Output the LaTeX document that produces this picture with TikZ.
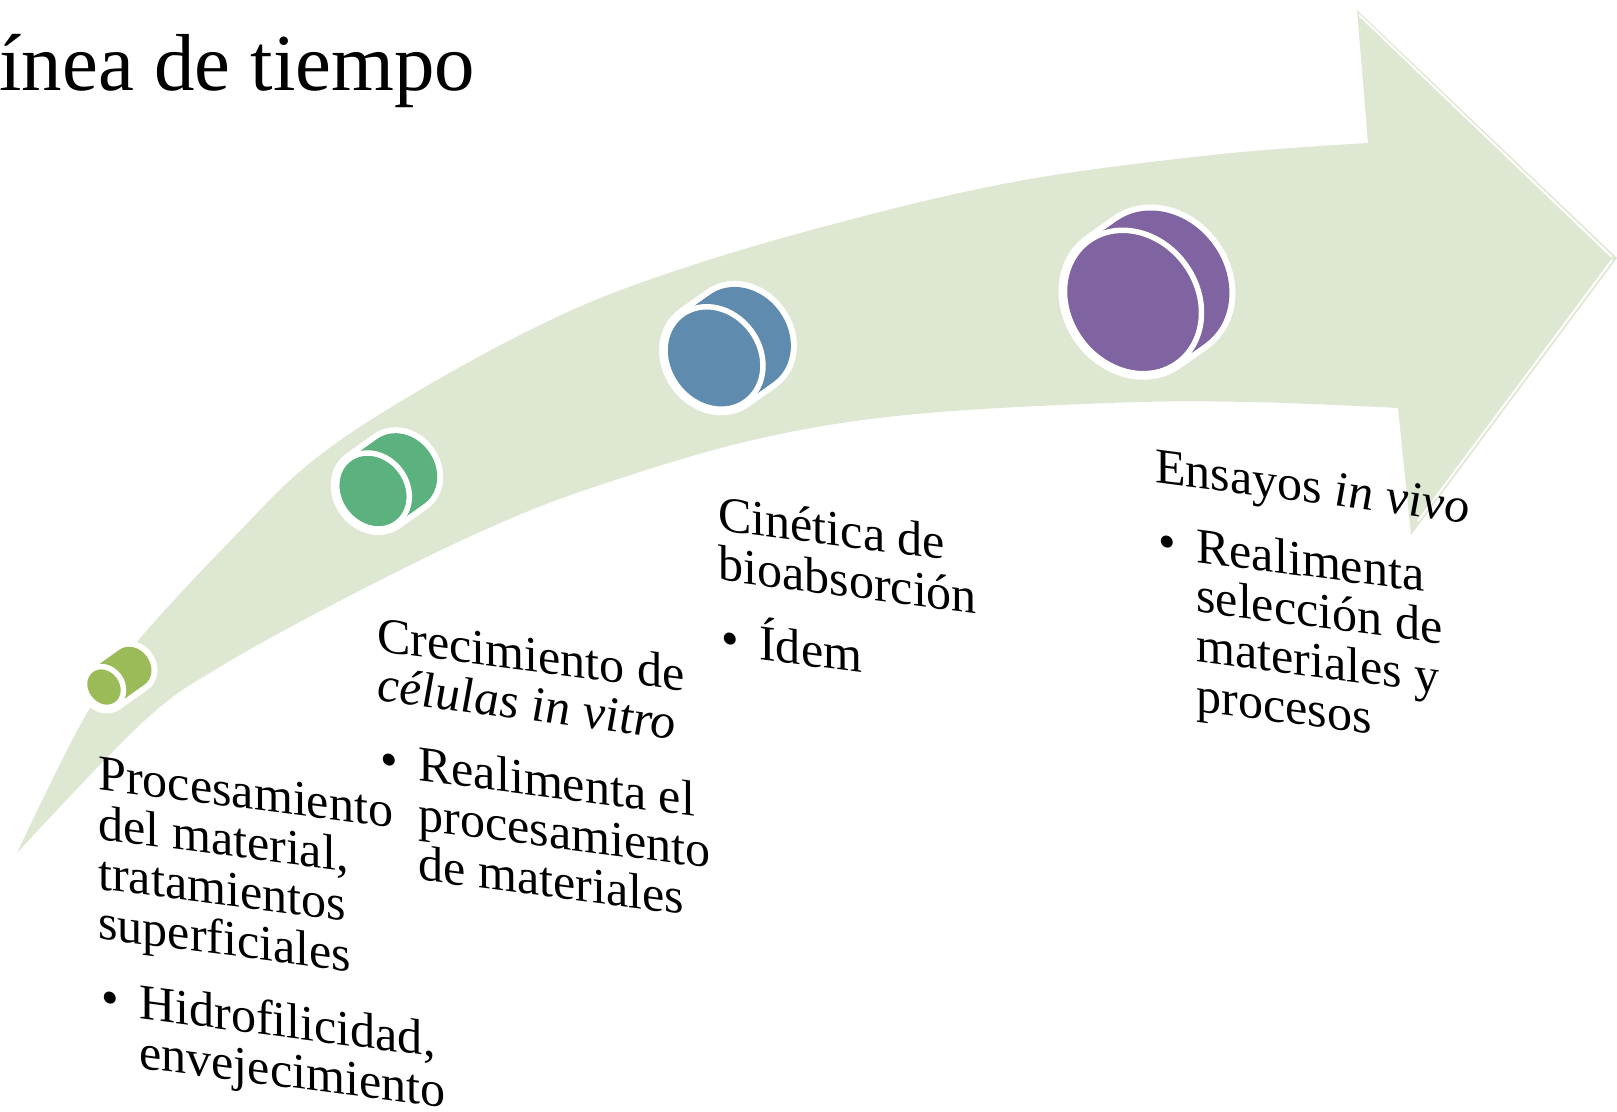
\documentclass[tikz,border=0pt]{standalone}
\usepackage{fontspec}
\setmainfont{Liberation Serif}

\definecolor{arrowgreen}{HTML}{DEE7D1}
\definecolor{cylA}{HTML}{9BBB59}
\definecolor{cylB}{HTML}{5CB27E}
\definecolor{cylC}{HTML}{5F8CAE}
\definecolor{cylD}{HTML}{8064A2}

% vineta y sangria de las listas
\newcommand{\blt}{\makebox[0.82cm][l]{\hspace{0.06cm}\textbullet}}
\newcommand{\bind}{\hspace*{0.82cm}}

\begin{document}
\begin{tikzpicture}[
    x=0.02cm, y=-0.02cm,
    % Estilos de texto
    title/.style={font=\fontsize{46}{50}\selectfont, inner sep=0pt, anchor=base west},
    stage/.style={font=\fontsize{28.5}{28.3}\selectfont, align=left, inner sep=0pt,
                  anchor=north west, yslant=-0.13},
    % Estilos de cilindros
    halo/.style={white, line width=0.24cm},
    ring/.style={white, line width=0.11cm},
    shine/.style={white, line width=0.04cm}
]
\useasboundingbox (0,0) rectangle (1617,1112);

% --- FLECHA CURVA ---
\fill[arrowgreen]
    plot[smooth, tension=0.6] coordinates {(17,853) (83,720) (137,642) (235,536) (310,463)
        (403,400) (530,330) (640,283) (804,232) (1008,183) (1212,155) (1368,143)}
    -- (1357,10) -- (1617,258) -- (1411,535) -- (1398,408)
    -- plot[smooth, tension=0.6] coordinates {(1398,408) (1250,402) (1110,403) (906,415)
        (753,440) (600,485) (491,527) (357,592) (223,665) (143,722) (17,853)}
    -- cycle;
\draw[shine] (1359,15) -- (1612,257);
\draw[shine] (1612,260) -- (1418,521);

% --- CILINDROS ---
\foreach \cx/\cy/\sz/\col in {104/687/0.285/cylA, 373/491/0.53/cylB,
                              714/358/0.715/cylC, 1133/302/1/cylD}{
    \foreach \pos in {0,0.1,...,1}
        \draw[halo] (\cx+31*\pos,\cy-22*\pos) ellipse [x radius=64.4*\sz, y radius=75.4*\sz, rotate=36.5];
    \foreach \pos in {0,0.1,...,1}
        \fill[\col] (\cx+31*\pos,\cy-22*\pos) ellipse [x radius=64.4*\sz, y radius=75.4*\sz, rotate=36.5];
    \draw[ring, fill=\col] (\cx,\cy) ellipse [x radius=64.4*\sz, y radius=75.4*\sz, rotate=36.5];
}

% --- TITULO ---
\node[title] (titulo) at (-1,90) {ínea de tiempo};

% --- ETAPAS ---
\node[stage] (procesamiento) at (98,756)
    {Procesamiento\\del material,\\tratamientos\\superficiales\\[14pt]%
     \blt Hidrofilicidad,\\\bind envejecimiento};
\node[stage] (crecimiento) at (377,616)
    {Crecimiento de\\\textit{células in vitro}\\[14pt]%
     \blt Realimenta el\\\bind procesamiento\\\bind de materiales};
\node[stage] (cinetica) at (718,495)
    {Cinética de\\bioabsorción\\[14pt]%
     \blt Ídem};
\node[stage] (ensayos) at (1155,449)
    {Ensayos \textit{in vivo}\\[14pt]%
     \blt Realimenta\\\bind selección de\\\bind materiales y\\\bind procesos};

\end{tikzpicture}
\end{document}
